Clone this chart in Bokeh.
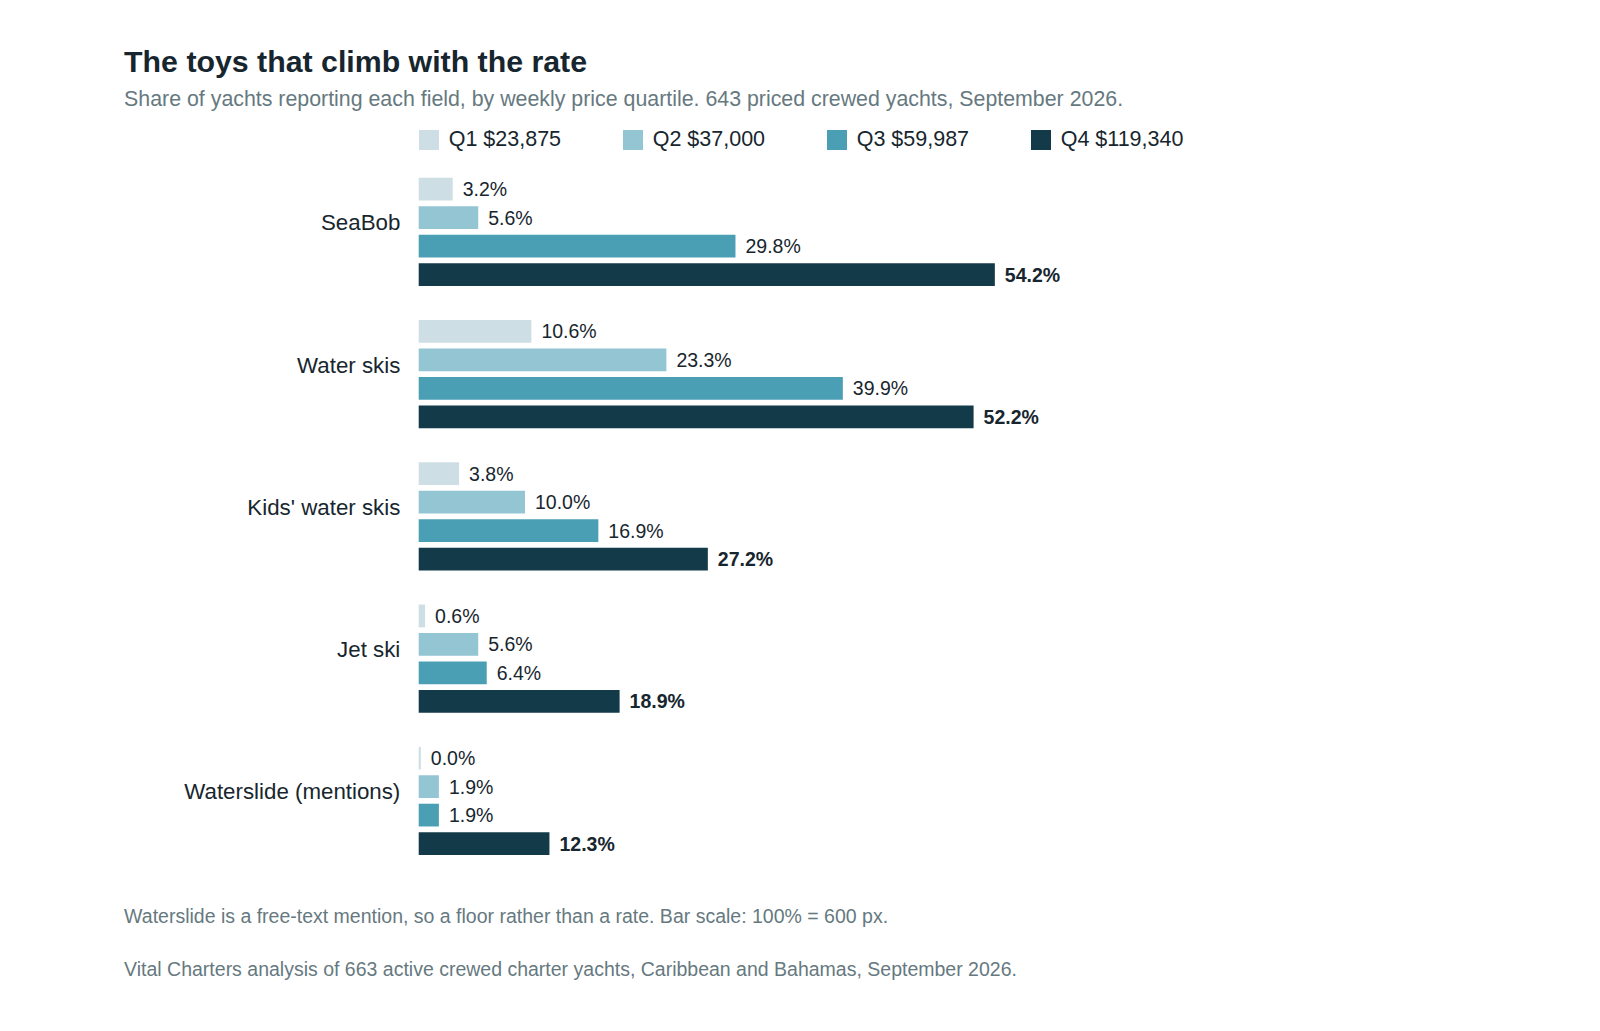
from bokeh.plotting import figure
from bokeh.models import ColumnDataSource, Range1d, Label, Legend, LegendItem
from bokeh.core.properties import value
from bokeh.embed import file_html
from bokeh.resources import INLINE

# ---- data ----
categories = ["SeaBob", "Water skis", "Kids' water skis", "Jet ski", "Waterslide (mentions)"]
quartile_labels = ["Q1 $23,875", "Q2 $37,000", "Q3 $59,987", "Q4 $119,340"]
q1_values = [3.2, 10.6, 3.8, 0.6, 0.0]
q2_values = [5.6, 23.3, 10.0, 5.6, 1.9]
q3_values = [29.8, 39.9, 16.9, 6.4, 1.9]
q4_values = [54.2, 52.2, 27.2, 18.9, 12.3]
series = [q1_values, q2_values, q3_values, q4_values]

title_text = "The toys that climb with the rate"
subtitle_text = ("Share of yachts reporting each field, by weekly price quartile. "
                 "643 priced crewed yachts, September 2026.")
note_text = "Waterslide is a free-text mention, so a floor rather than a rate. Bar scale: 100% = 600 px."
source_text = ("Vital Charters analysis of 663 active crewed charter yachts, "
               "Caribbean and Bahamas, September 2026.")

# ---- style ----
colors = ["#cddfe5", "#93c5d3", "#4a9fb4", "#133a48"]
TEXT = "#17262e"
GREY = "#66797f"
FONT = "Liberation Sans"
W, H = 1584, 1015
PX_PER_UNIT = 10.63      # px per percentage point
ROW_PX = 28.45           # px per bar row
X0_PX = 418.2            # frame px of the zero line
Y0_PX = 188.7            # frame px of first bar centre
GROUP_STEP = 5

p = figure(width=W, height=H, output_backend="svg", toolbar_location=None,
           min_border=0, outline_line_color=None)
p.x_range = Range1d(-X0_PX / PX_PER_UNIT, (W - X0_PX) / PX_PER_UNIT)
p.y_range = Range1d((H - Y0_PX) / ROW_PX, -Y0_PX / ROW_PX)
p.axis.visible = False
p.grid.visible = False
p.background_fill_color = "white"
p.border_fill_color = "white"

renderers = []
for qi, vals in enumerate(series):
    ys = [gi * GROUP_STEP + qi for gi in range(len(categories))]
    src = ColumnDataSource(dict(
        y=ys,
        right=[max(v, 0.2) for v in vals],
        lab=[f"{v:.1f}%" for v in vals],
    ))
    r = p.hbar(y="y", left=0, right="right", height=0.8, source=src,
               fill_color=colors[qi], line_color=None)
    renderers.append(r)
    p.text(x="right", y="y", text="lab", source=src, x_offset=10,
           text_align="left", text_baseline="middle",
           text_font=value(FONT), text_font_size="19.5px", text_color=TEXT,
           text_font_style="bold" if qi == 3 else "normal")

# category labels
cat_src = ColumnDataSource(dict(
    x=[0] * len(categories),
    y=[gi * GROUP_STEP + 1.18 for gi in range(len(categories))],
    t=categories,
))
p.text(x="x", y="y", text="t", source=cat_src, x_offset=-18.4,
       text_align="right", text_baseline="middle", text_font=value(FONT),
       text_font_size="22.3px", text_color=TEXT)

# legend
legend = Legend(items=[LegendItem(label=quartile_labels[i], renderers=[renderers[i]])
                       for i in range(4)],
                orientation="horizontal", location=(415.7, H - 151.5),
                glyph_width=25, glyph_height=25, label_standoff=8,
                label_width=150, spacing=21, padding=0, margin=0,
                border_line_color=None, background_fill_alpha=0,
                label_text_font=FONT, label_text_font_size="21.5px",
                label_text_color=TEXT, label_height=25)
p.add_layout(legend, "center")

# title, subtitle, footer
def add_label(txt, x, y_base, size, color, style="normal"):
    p.add_layout(Label(x=x, y=H - y_base, x_units="screen", y_units="screen",
                       text=txt, text_font=FONT, text_font_size=size,
                       text_color=color, text_font_style=style,
                       text_baseline="alphabetic", text_align="left"))

add_label(title_text, 123.6, 60.8, "30.3px", TEXT, "bold")
add_label(subtitle_text, 123.6, 98.3, "21.35px", GREY)
add_label(note_text, 123.6, 915.9, "19.5px", GREY)
add_label(source_text, 123.6, 968.9, "19.5px", GREY)

open("out.html", "w").write(file_html(p, INLINE))
